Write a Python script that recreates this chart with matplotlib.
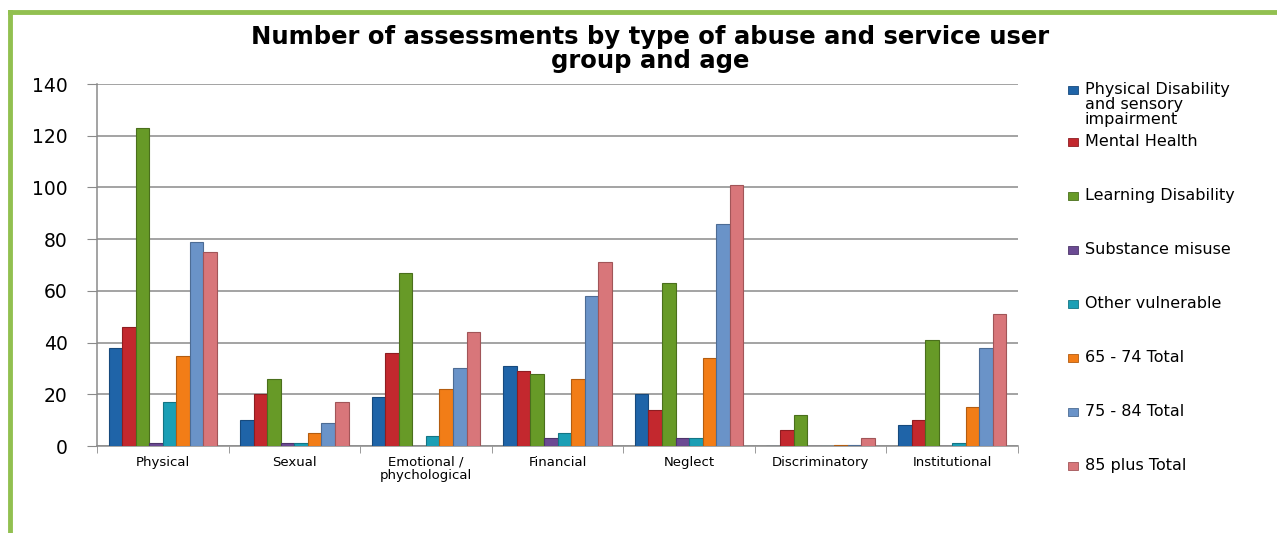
import numpy as np
import matplotlib.pyplot as plt
from matplotlib.patches import Rectangle
from matplotlib.lines import Line2D

# categories (type of abuse)
categories = ['Physical', 'Sexual', 'Emotional /\nphychological', 'Financial',
              'Neglect', 'Discriminatory', 'Institutional']

# series (service user group / age)
series_names = ['Physical Disability\nand sensory\nimpairment', 'Mental Health',
                'Learning Disability', 'Substance misuse', 'Other vulnerable',
                '65 - 74 Total', '75 - 84 Total', '85 plus Total']

phys_dis   = [38, 10, 19, 31, 20, 0, 8]
mental     = [46, 20, 36, 29, 14, 6, 10]
learning   = [123, 26, 67, 28, 63, 12, 41]
substance  = [1, 1, 0, 3, 3, 0, 0]
other_vuln = [17, 1, 4, 5, 3, 0, 1]
age_65_74  = [35, 5, 22, 26, 34, 0.5, 15]
age_75_84  = [79, 9, 30, 58, 86, 0.5, 38]
age_85     = [75, 17, 44, 71, 101, 3, 51]

series = [phys_dis, mental, learning, substance, other_vuln, age_65_74, age_75_84, age_85]
colors = ['#1f64a8', '#c3282e', '#679a27', '#6b4a93', '#1b9fb5', '#f27d17', '#6a93c8', '#d8767a']
edges  = ['#174a7d', '#8e1d21', '#4a6f1c', '#4d356a', '#137584', '#b35c10', '#4d6c94', '#a15558']

yticks = [0, 20, 40, 60, 80, 100, 120, 140]

fig = plt.figure(figsize=(12.77, 5.33), dpi=100)
W, H = 1277, 533

# green frame on left and top
fig.add_artist(Line2D([10 / W, 10 / W], [0, 1 - 12 / H], color='#92c050', lw=3.5))
fig.add_artist(Line2D([10 / W, 1], [1 - 12 / H, 1 - 12 / H], color='#92c050', lw=3.5))

ax = fig.add_axes([97 / W, 87 / H, (1018 - 97) / W, (446 - 84) / H])

x = np.arange(len(categories))
w = 0.103
for j, vals in enumerate(series):
    ax.bar(x + (j - 3.5) * w, vals, width=w, color=colors[j], edgecolor=edges[j],
           linewidth=0.8, zorder=3)

ax.set_xlim(-0.5, len(categories) - 0.5)
ax.set_ylim(0, 140)
ax.set_yticks(yticks)
ax.set_yticklabels([str(v) for v in yticks], fontsize=13.5)
ax.yaxis.grid(True, color='#8a8a8a', linewidth=1.1, zorder=0)
ax.tick_params(axis='y', length=7, color='#8a8a8a', pad=14)

ax.set_xticks(x)
ax.set_xticklabels(categories, fontsize=9.5, linespacing=1.0)
ax.set_xticks(np.arange(-0.5, len(categories)), minor=True)
ax.tick_params(axis='x', which='major', length=0, pad=7)
ax.tick_params(axis='x', which='minor', length=5, color='#8a8a8a')

for s in ['top', 'right']:
    ax.spines[s].set_visible(False)
for s in ['left', 'bottom']:
    ax.spines[s].set_color('#8a8a8a')
    ax.spines[s].set_linewidth(1.1)

fig.text(650 / W, 1 - 49 / H,
         'Number of assessments by type of abuse and service user\ngroup and age',
         ha='center', va='center', fontsize=17.5, fontweight='bold', linespacing=1.0)

# legend, evenly spaced like the original
leg_y = [90, 142, 196, 250, 304, 358, 412, 466]
for j, name in enumerate(series_names):
    yc = leg_y[j]
    fig.add_artist(Rectangle((1068 / W, 1 - (yc + 4) / H), 10 / W, 8 / H,
                             transform=fig.transFigure, facecolor=colors[j],
                             edgecolor=edges[j], lw=0.6))
    fig.text(1085 / W, 1 - (yc - 8) / H, name, ha='left', va='top',
             fontsize=11.5, linespacing=1.0)

fig.savefig('out.png', dpi=100)
